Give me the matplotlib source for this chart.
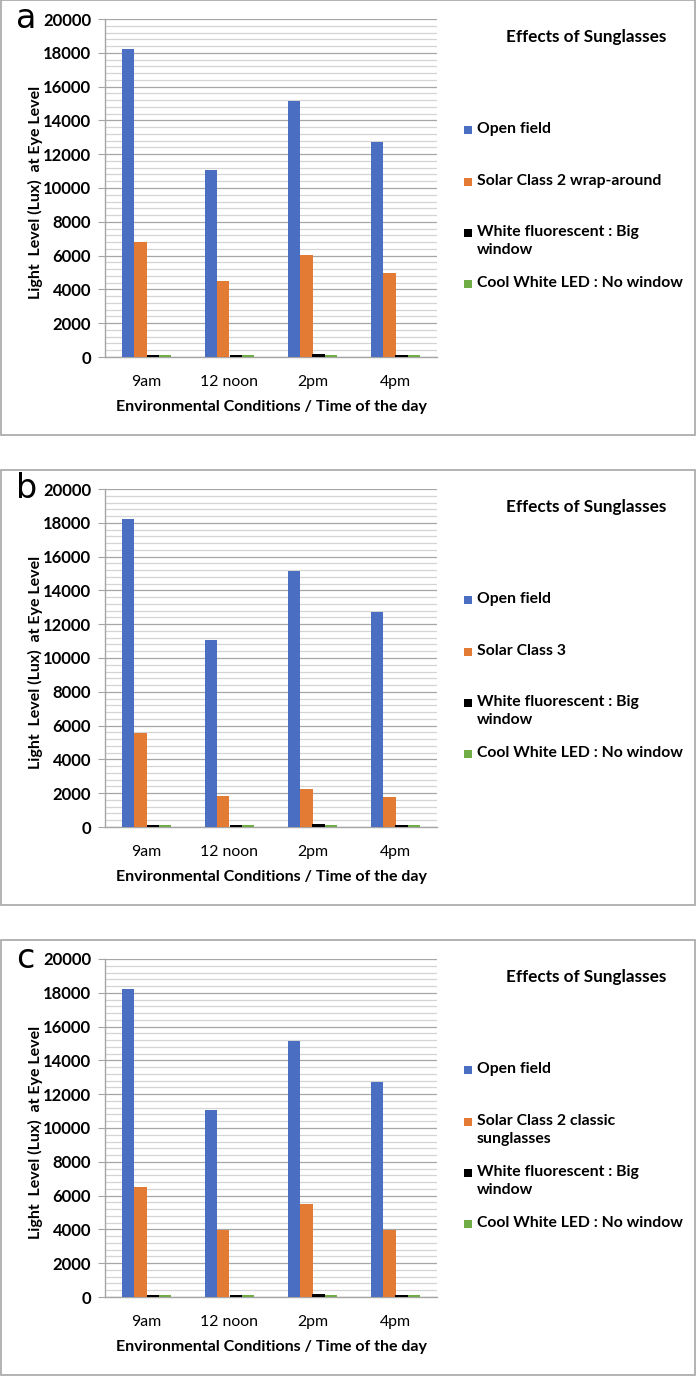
import numpy as np
import matplotlib
matplotlib.use('Agg')
import matplotlib.pyplot as plt
from matplotlib.patches import Rectangle
from matplotlib.ticker import MultipleLocator

plt.rcParams['font.family'] = ['Lato', 'DejaVu Sans']

# data
times = ['9am', '12 noon', '2pm', '4pm']
open_field = [18200, 11050, 15150, 12700]
fluorescent = [110, 130, 150, 110]
cool_led = [90, 90, 90, 90]
sun_a = [6800, 4480, 6060, 4950]
sun_b = [5550, 1820, 2250, 1780]
sun_c = [6500, 3940, 5500, 3970]
panel_letters = ['a', 'b', 'c']
sun_labels = ['Solar Class 2 wrap-around', 'Solar Class 3',
              'Solar Class 2 classic\nsunglasses']
sun_values = [sun_a, sun_b, sun_c]

colors = ['#4a6fc2', '#e37b35', '#000000', '#70AD47']
W, H = 696, 1376
box_tops = [0, 470, 940]
box_h = 435

fig = plt.figure(figsize=(W / 100, H / 100), dpi=100)


def fx(px):
    return px / W


def fy(py):
    return 1 - py / H


x = np.arange(len(times))
bw = 0.145

for i, top in enumerate(box_tops):
    # panel frame
    fig.add_artist(Rectangle((fx(0.5), fy(top + box_h)), fx(694.5), box_h / H,
                             transform=fig.transFigure, fill=False,
                             edgecolor='#a6a6a6', linewidth=1.2))
    fig.text(fx(16), fy(top + 19), panel_letters[i], fontsize=24,
             ha='left', va='center', family='DejaVu Sans')

    ax = fig.add_axes([fx(105), fy(top + 357), fx(332), 338 / H])
    series = [open_field, sun_values[i], fluorescent, cool_led]
    for k, vals in enumerate(series):
        ax.bar(x + (k - 1.5) * bw, vals, width=bw, color=colors[k], zorder=3)

    ax.set_xlim(-0.5, len(times) - 0.5)
    ax.set_ylim(0, 20000)
    ax.yaxis.set_major_locator(MultipleLocator(2000))
    ax.yaxis.set_minor_locator(MultipleLocator(400))
    ax.grid(which='major', axis='y', color='#a6a6a6', linewidth=0.9, zorder=0)
    ax.grid(which='minor', axis='y', color='#d4d4d4', linewidth=0.9, zorder=0)
    ax.set_xticks(x)
    ax.set_xticklabels(times, fontsize=11.4)
    ax.tick_params(axis='x', length=0, pad=13)
    ax.tick_params(axis='y', which='major', length=5, color='#a6a6a6',
                   labelsize=12, pad=5)
    ax.tick_params(axis='y', which='minor', length=0)
    for t in ax.get_yticklabels():
        t.set_fontweight('bold')
    for s in ['top', 'right']:
        ax.spines[s].set_visible(False)
    for s in ['left', 'bottom']:
        ax.spines[s].set_color('#a6a6a6')
        ax.spines[s].set_linewidth(1)

    ax.set_xlabel('Environmental Conditions / Time of the day',
                  fontsize=11.5, fontweight='bold', labelpad=8)
    fig.text(fx(35), fy(top + 192), 'Light  Level (Lux)  at Eye Level',
             rotation=90, fontsize=11.5, fontweight='bold',
             ha='center', va='center')

    # legend block
    fig.text(fx(586), fy(top + 37), 'Effects of Sunglasses', fontsize=12.3,
             fontweight='bold', ha='center', va='center')
    leg_labels = ['Open field', sun_labels[i],
                  'White fluorescent : Big\nwindow', 'Cool White LED : No window']
    leg_y = [130, 182, 233, 284]
    for k, lab in enumerate(leg_labels):
        ly = top + leg_y[k]
        fig.add_artist(Rectangle((fx(464), fy(ly + 4)), fx(8), 8 / H,
                                 transform=fig.transFigure,
                                 facecolor=colors[k], edgecolor='none'))
        fig.text(fx(477), fy(ly - 8), lab, fontsize=11.3, fontweight='bold',
                 ha='left', va='top', linespacing=1.4)

fig.savefig('out.png', dpi=100)
